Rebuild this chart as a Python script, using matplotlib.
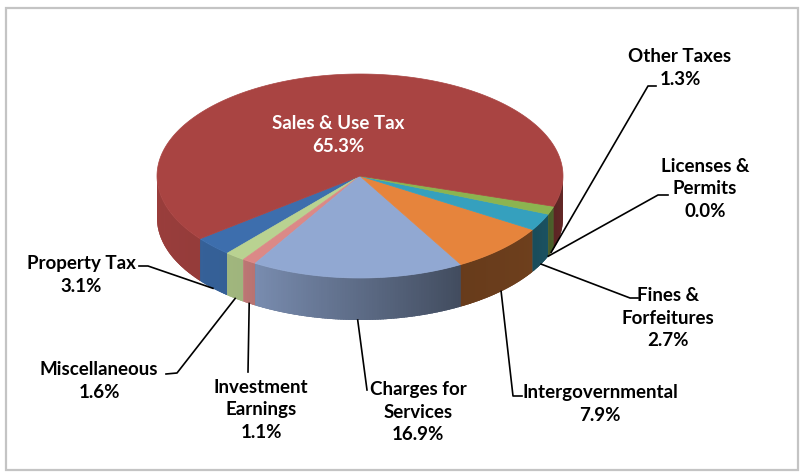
import numpy as np
import matplotlib.pyplot as plt
from matplotlib.patches import Polygon, Rectangle

# revenue shares, in drawing order (counter-clockwise from the left front)
sources = ['Property Tax', 'Miscellaneous', 'Investment\nEarnings',
           'Charges for\nServices', 'Intergovernmental', 'Fines &\nForfeitures',
           'Licenses &\nPermits', 'Other Taxes', 'Sales & Use Tax']
shares = [3.1, 1.6, 1.1, 16.9, 7.9, 2.7, 0.0, 1.3, 65.3]
colors = ['#3D6EAD', '#B9D291', '#DB8987', '#91A8D2', '#E6843C',
          '#35A0BE', '#7F62A0', '#8CB450', '#A94442']

# pie geometry in pixels
cx, cy = 360, 176
rx, ry = 203, 102
depth = 42
start = 218.0

# label block centres and leader elbows
label_pos = [(81, 275), (99, 381), (261, 410), (418, 412), (600, 404),
             (668, 318), (705, 189), (680, 68), (338, 135)]
leaders = [[(148, 266), (139, 266)],
           [(177, 373), (166, 374)],
           [(248, 372)],
           [(367, 390)],
           [(513, 396), (522, 396)],
           [(630, 298), (638, 298)],
           [(658, 195), (668, 195)],
           [(648, 86), (656, 86)],
           None]

plt.rcParams['font.family'] = ['Lato', 'DejaVu Sans']

fig = plt.figure(figsize=(8.04, 4.74), dpi=100)
ax = fig.add_axes([0, 0, 1, 1])
ax.set_xlim(0, 804)
ax.set_ylim(474, 0)
ax.axis('off')

ax.add_patch(Rectangle((6, 8), 792, 462, fill=False, ec='#c4c4c4', lw=1.6))


def rim(t):
    t = np.radians(t)
    return cx + rx * np.cos(t), cy - ry * np.sin(t)


def shade(hex_color, f):
    r, g, b = [int(hex_color[i:i + 2], 16) / 255 for i in (1, 3, 5)]
    return (r * f, g * f, b * f)


def light(t):
    return np.interp(t, [180, 235, 300, 330, 360], [0.92, 0.86, 0.45, 0.48, 0.62])


total = sum(shares)
bounds = start + 360 * np.concatenate([[0], np.cumsum(shares)]) / total

# side wall, only the front half (180..360 deg) is visible
for i in range(len(shares)):
    a0, a1 = bounds[i], bounds[i + 1]
    for off in (0, 360, -360):
        lo, hi = max(a0 + off, 180), min(a1 + off, 360)
        if hi <= lo:
            continue
        # base piece in the middle shade, then finer shaded strips over it
        t = np.linspace(lo, hi, 100)
        xs, ys = rim(t)
        outline = list(zip(xs, ys)) + list(zip(xs[::-1], ys[::-1] + depth))
        base = shade(colors[i], light((lo + hi) / 2))
        ax.add_patch(Polygon(outline, closed=True, fc=base, ec='none', lw=0))
        steps = np.append(np.arange(lo, hi, 0.75), hi)
        for t0, t1 in zip(steps[:-1], steps[1:]):
            c = shade(colors[i], light((t0 + t1) / 2))
            t1x = min(t1 + 0.4, hi)
            seg = np.linspace(t0, t1x, 4)
            sx, sy = rim(seg)
            pts = list(zip(sx, sy)) + list(zip(sx[::-1], sy[::-1] + depth))
            ax.add_patch(Polygon(pts, closed=True, fc=c, ec='none', lw=0))

# top faces
for i in range(len(shares)):
    if shares[i] == 0:
        continue
    t = np.linspace(bounds[i], bounds[i + 1], 200)
    xs, ys = rim(t)
    pts = [(cx, cy)] + list(zip(xs, ys))
    ax.add_patch(Polygon(pts, closed=True, fc=colors[i], ec=colors[i], lw=0.5))

# labels and leader lines
for i, name in enumerate(sources):
    text = f'{name}\n{shares[i]:.1f}%'
    lx, ly = label_pos[i]
    if leaders[i] is None:
        ax.text(lx, ly, text, ha='center', va='center', color='white',
                fontsize=13.5, fontweight='bold', linespacing=1.42)
        continue
    mid = (bounds[i] + bounds[i + 1]) / 2
    px, py = rim(mid)
    pts = [(px, py + depth)] + leaders[i]
    ax.plot([p[0] for p in pts], [p[1] for p in pts], color='black', lw=1.2)
    ax.text(lx, ly, text, ha='center', va='center', color='black',
            fontsize=13.5, fontweight='bold', linespacing=1.42)

fig.savefig('out.png', dpi=100)
